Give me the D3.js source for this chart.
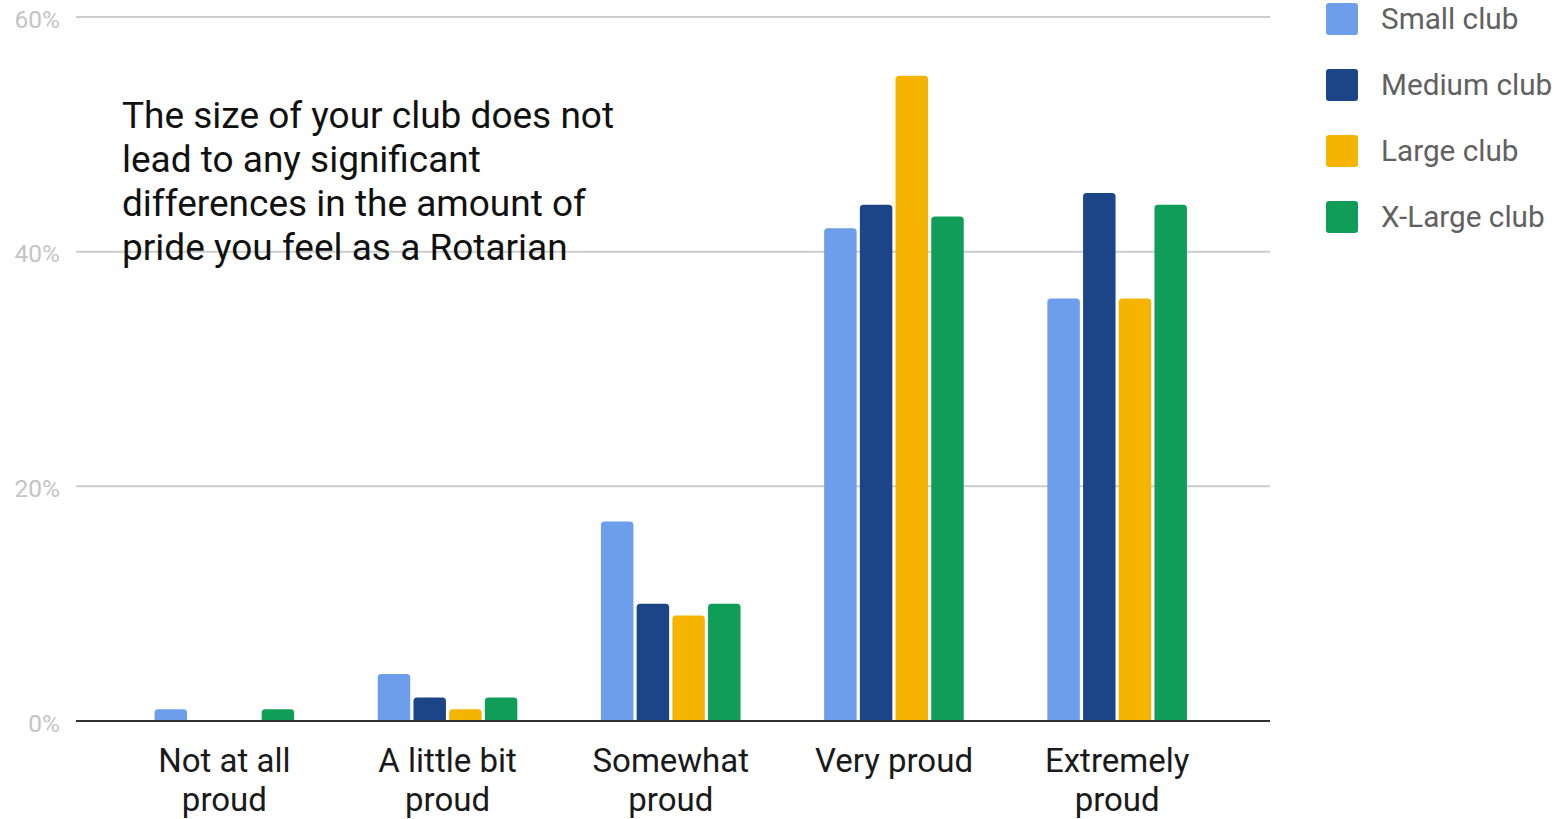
<!DOCTYPE html>
<html>
<head>
<meta charset="utf-8">
<script src="https://cdn.jsdelivr.net/npm/d3@7"></script>
<style>
  html, body { margin: 0; padding: 0; background: #ffffff; }
  svg { display: block; }
  text { font-family: Roboto, "Open Sans", sans-serif; }
</style>
</head>
<body>
<svg id="chart" width="1556" height="819"></svg>
<script>
// Pride level by club size (share of respondents, %)
const categories = [["Not at all", "proud"], ["A little bit", "proud"], ["Somewhat", "proud"], ["Very proud"], ["Extremely", "proud"]];
const seriesNames = ["Small club", "Medium club", "Large club", "X-Large club"];
const smallClub  = [1, 4, 17, 42, 36];
const mediumClub = [0, 2, 10, 44, 45];
const largeClub  = [0, 1, 9, 55, 36];
const xLargeClub = [1, 2, 10, 43, 44];
const yTicks = [0, 20, 40, 60];
const colors = ["#6d9eeb", "#1c4587", "#f4b400", "#0f9d58"];
const note = ["The size of your club does not", "lead to any significant", "differences in the amount of", "pride you feel as a Rotarian"];

const seriesValues = [smallClub, mediumClub, largeClub, xLargeClub];
const catKeys = categories.map(c => c.join(" "));

const svg = d3.select("#chart");

const y = d3.scaleLinear().domain([0, 60]).range([721, 17]);
const x0 = d3.scaleBand().domain(catKeys).range([112.75, 1228.75])
  .paddingInner(0.3746).paddingOuter(0.1873);
const x1 = d3.scaleBand().domain(seriesNames).range([0, x0.bandwidth()])
  .paddingInner(0.09).paddingOuter(0);

// Gridlines and y tick labels
const grid = svg.append("g");
grid.selectAll("line").data(yTicks.filter(t => t !== 0)).join("line")
  .attr("x1", 76).attr("x2", 1270)
  .attr("y1", d => y(d)).attr("y2", d => y(d))
  .attr("stroke", "#cccccc").attr("stroke-width", 2);

const yAxis = d3.axisLeft(y).tickValues(yTicks).tickFormat(d => d + "%").tickSize(0).tickPadding(0);
const yg = svg.append("g").attr("transform", "translate(60,1.5)").call(yAxis);
yg.select(".domain").remove();
yg.selectAll("text")
  .attr("font-size", 24.5).attr("fill", "#c4c4c4")
  .attr("font-family", "Roboto, sans-serif").attr("dy", "0.35em");

// Annotation
const noteG = svg.append("text").attr("x", 122).attr("y", 128)
  .attr("font-size", 37).attr("fill", "#111111");
noteG.selectAll("tspan").data(note).join("tspan")
  .attr("x", 122).attr("dy", (d, i) => i === 0 ? 0 : 44).text(d => d);

// Bars with rounded top corners
function barPath(bx, by, w, h, r) {
  if (h <= 0) return "";
  const rr = Math.min(r, h, w / 2);
  return `M${bx},${by + h}V${by + rr}Q${bx},${by} ${bx + rr},${by}H${bx + w - rr}Q${bx + w},${by} ${bx + w},${by + rr}V${by + h}Z`;
}

const groups = svg.append("g").selectAll("g").data(catKeys).join("g")
  .attr("transform", d => `translate(${x0(d)},0)`);

groups.selectAll("path")
  .data((d, ci) => seriesNames.map((s, si) => ({ s, si, v: seriesValues[si][ci] })))
  .join("path")
  .attr("d", d => barPath(x1(d.s), y(d.v), x1.bandwidth(), y(0) - y(d.v), 3.5))
  .attr("fill", d => colors[d.si]);

// Baseline
svg.append("line").attr("x1", 76).attr("x2", 1270)
  .attr("y1", y(0)).attr("y2", y(0))
  .attr("stroke", "#333333").attr("stroke-width", 2);

// Category labels
const xAxis = d3.axisBottom(x0).tickSize(0).tickFormat("");
const xg = svg.append("g").attr("transform", `translate(0,${y(0)})`).call(xAxis);
xg.select(".domain").remove();
xg.selectAll(".tick").each(function (d, i) {
  const t = d3.select(this).append("text")
    .attr("text-anchor", "middle").attr("font-size", 33).attr("fill", "#1a1a1a")
    .attr("font-family", "Roboto, sans-serif").attr("y", 50.5);
  t.selectAll("tspan").data(categories[i]).join("tspan")
    .attr("x", 0).attr("dy", (l, j) => j === 0 ? 0 : 39).text(l => l);
});

// Legend
const legend = svg.append("g").selectAll("g").data(seriesNames).join("g")
  .attr("transform", (d, i) => `translate(1326,${3 + i * 66})`);
legend.append("rect").attr("width", 32).attr("height", 32).attr("rx", 3)
  .attr("fill", (d, i) => colors[i]);
legend.append("text").attr("x", 55).attr("y", 16).attr("dy", "0.35em")
  .attr("font-size", 29.7).attr("fill", "#616161").text(d => d);
</script>
</body>
</html>
